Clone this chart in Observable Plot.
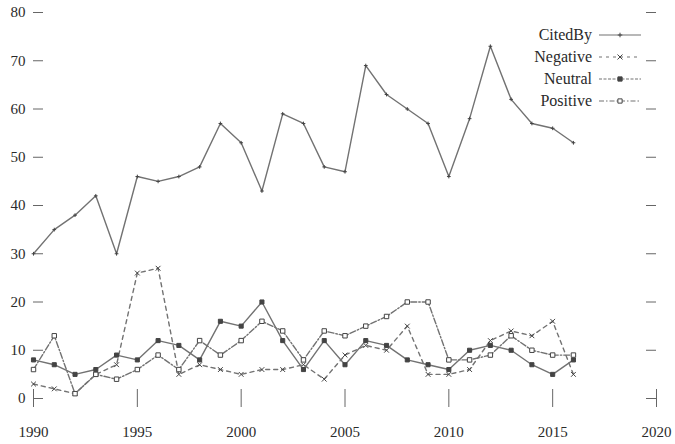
<!DOCTYPE html>
<html><head><meta charset="utf-8">
<script src="https://cdn.jsdelivr.net/npm/d3@7"></script>
<script src="https://cdn.jsdelivr.net/npm/@observablehq/plot@0.6"></script>
<style>
body{margin:0;background:#fff;}
#wrap{position:relative;width:675px;height:444px;font-family:'Liberation Serif';color:#2a2a2a;}
#wrap svg text{font-family:'Liberation Serif';}
#legend{position:absolute;top:24px;right:33px;}
.row{display:flex;justify-content:flex-end;align-items:center;height:22px;font-size:16px;font-family:'Liberation Serif';}
.row span{margin-right:6px;}
</style>
</head><body><div id="wrap"><div id="legend"></div></div>
<script>
const years = [1990,1991,1992,1993,1994,1995,1996,1997,1998,1999,2000,2001,2002,2003,2004,2005,2006,2007,2008,2009,2010,2011,2012,2013,2014,2015,2016];
const citedBy  = [30,35,38,42,30,46,45,46,48,57,53,43,59,57,48,47,69,63,60,57,46,58,73,62,57,56,53];
const negative = [3,2,1,5,7,26,27,5,7,6,5,6,6,7,4,9,11,10,15,5,5,6,12,14,13,16,5];
const neutral  = [8,7,5,6,9,8,12,11,8,16,15,20,12,6,12,7,12,11,8,7,6,10,11,10,7,5,8];
const positive = [6,13,1,5,4,6,9,6,12,9,12,16,14,8,14,13,15,17,20,20,8,8,9,13,10,9,9];
const seriesNames = ["CitedBy","Negative","Neutral","Positive"];
const xTicks = [1990,1995,2000,2005,2010,2015,2020];
const yTicks = [0,10,20,30,40,50,60,70,80];

const seriesValues = {CitedBy: citedBy, Negative: negative, Neutral: neutral, Positive: positive};
const styles = {
  CitedBy:  {dash: null,      symbol: "plus",   fill: "none", r: 1.3},
  Negative: {dash: "4,4",     symbol: "times",  fill: "none", r: 2.3},
  Neutral:  {dash: null,      symbol: "square", fill: "#444", r: 2.3},
  Positive: {dash: "6,2,1.5,2", symbol: "square", fill: "white", r: 2.5}
};
const legendDash = {CitedBy: null, Negative: "3,4", Neutral: "3,1.5", Positive: "5,2,1.5,2"};
const lineColor = "#727272";
const markColor = "#444";
const fontStack = "'Liberation Serif'";

const W = 675, H = 444, mL = 33, mR = 19, mT = 12, mB = 46;
const frameW = W - mL - mR, frameH = H - mT - mB;

const marks = [
  Plot.ruleY(yTicks, {y: d => d, insetRight: frameW - 10, stroke: "#666", strokeWidth: 1}),
  Plot.ruleY(yTicks, {y: d => d, insetLeft: frameW - 10, stroke: "#666", strokeWidth: 1}),
  Plot.ruleX(xTicks, {x: d => d, insetTop: frameH - 9, stroke: "#666", strokeWidth: 1}),
  Plot.axisY(yTicks, {tickSize: 0, tickPadding: 8, label: null, fill: "#2a2a2a"}),
  Plot.axisX(xTicks, {tickSize: 9, tickPadding: 19, tickFormat: d => String(d), label: null, stroke: "#666", fill: "#2a2a2a"})
];
for (const name of seriesNames) {
  const s = styles[name];
  const data = years.map((y, i) => ({year: y, value: seriesValues[name][i]}));
  marks.push(Plot.line(data, {x: "year", y: "value", stroke: lineColor, strokeWidth: 1.4, strokeDasharray: s.dash || undefined}));
  marks.push(Plot.dot(data, {x: "year", y: "value", symbol: s.symbol, r: s.r, stroke: markColor, strokeWidth: 1, fill: s.fill}));
}

const chart = Plot.plot({
  width: W, height: H,
  marginLeft: mL, marginRight: mR, marginTop: mT, marginBottom: mB,
  x: {domain: [1990, 2020]},
  y: {domain: [0, 80]},
  style: {fontFamily: fontStack, fontSize: "15px", color: "#2a2a2a", background: "white"},
  marks
});
const wrap = document.getElementById("wrap");
wrap.insertBefore(chart, wrap.firstChild);

// legend
const legend = d3.select("#legend");
const symbolPath = {
  plus: d3.symbol(d3.symbolPlus, 8)(),
  times: d3.symbol(d3.symbolTimes, 18)(),
  square: d3.symbol(d3.symbolSquare, 18)()
};
for (const name of seriesNames) {
  const s = styles[name];
  const row = legend.append("div").attr("class", "row");
  row.append("span").text(name);
  const svg = row.append("svg").attr("width", 44).attr("height", 22);
  svg.append("line").attr("x1", 1).attr("x2", 43).attr("y1", 11).attr("y2", 11)
    .attr("stroke", lineColor).attr("stroke-width", 1.2)
    .attr("stroke-dasharray", legendDash[name]);
  svg.append("path").attr("d", symbolPath[s.symbol]).attr("transform", "translate(22,11)")
    .attr("stroke", markColor).attr("fill", s.fill);
}
</script>
</body></html>
